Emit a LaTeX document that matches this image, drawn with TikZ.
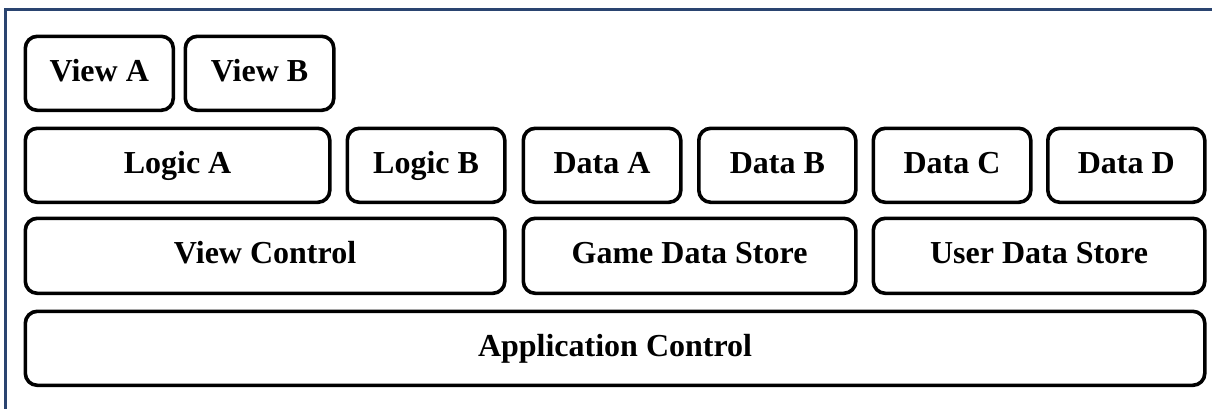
\documentclass[tikz,border=0pt]{standalone}
\usepackage{fontspec}
\setmainfont{Liberation Serif}
\definecolor{framecol}{HTML}{2A4470}
\begin{document}
\begin{tikzpicture}[x=1pt,y=-1pt,
  layer/.style={draw=black, line width=3.6pt, rounded corners=12pt, inner sep=0pt,
    anchor=north west, minimum height=74pt, font=\fontsize{32}{36}\selectfont\bfseries,
    text height=22pt, text depth=6pt, fill=white}]
  \useasboundingbox (0,0) rectangle (1212,408);
  % outer frame, running off the right and bottom edges
  \draw[framecol, line width=2.2pt] (5.5,9.5) rectangle (1230,430);

  % top row: views
  \node[layer, minimum width=148pt]   (viewA) at (23.5,34.5) {View A};
  \node[layer, minimum width=148.5pt] (viewB) at (183.5,34.5) {View B};

  % logic and data modules
  \node[layer, minimum width=304.5pt] (logicA) at (23.5,126.5) {Logic A};
  \node[layer, minimum width=157.5pt] (logicB) at (345.5,126.5) {Logic B};
  \node[layer, minimum width=157.5pt] (dataA)  at (521.5,126.5) {Data A};
  \node[layer, minimum width=157pt]   (dataB)  at (697,126.5) {Data B};
  \node[layer, minimum width=157.5pt] (dataC)  at (871.5,126.5) {Data C};
  \node[layer, minimum width=157pt]   (dataD)  at (1046,126.5) {Data D};

  % control and stores
  \node[layer, minimum width=479.5pt, minimum height=75pt] (viewctl)   at (23.5,216.5) {View Control};
  \node[layer, minimum width=332.5pt, minimum height=75pt] (gamestore) at (521.5,216.5) {Game Data Store};
  \node[layer, minimum width=331.5pt, minimum height=75pt] (userstore) at (871.5,216.5) {User Data Store};

  % base layer
  \node[layer, minimum width=1179.5pt] (appctl) at (23.5,309.5) {Application Control};
\end{tikzpicture}
\end{document}
